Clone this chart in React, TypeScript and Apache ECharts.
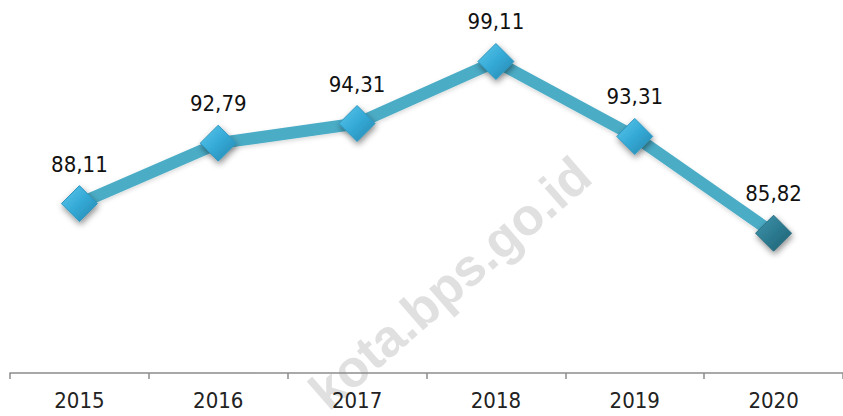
import React, { useEffect, useRef } from "react";
import * as echarts from "echarts";

const years = ["2015", "2016", "2017", "2018", "2019", "2020"];
const values = [88.11, 92.79, 94.31, 99.11, 93.31, 85.82];
const watermark = "kota.bps.go.id";

const FONT = "'Liberation Sans Narrow', 'Arial Narrow', 'DejaVu Sans Condensed', sans-serif";

export default function App() {
  const ref = useRef<HTMLDivElement>(null);
  useEffect(() => {
    document.body.style.margin = "0";
    const chart = echarts.init(ref.current!, null, { renderer: "svg" });
    const normalFill = new echarts.graphic.LinearGradient(0, 0, 1, 1, [
      { offset: 0, color: "#5cc8ec" },
      { offset: 0.5, color: "#34a9d6" },
      { offset: 1, color: "#2586ad" },
    ]);
    const darkFill = new echarts.graphic.LinearGradient(0, 0, 1, 1, [
      { offset: 0, color: "#3f97ad" },
      { offset: 0.5, color: "#2c7a90" },
      { offset: 1, color: "#1f5f72" },
    ]);
    const data = values.map((v, i) => ({
      value: v,
      itemStyle: {
        color: i === values.length - 1 ? darkFill : normalFill,
        borderColor: i === values.length - 1 ? "#2a6f82" : "#2f97c0",
        borderWidth: 1,
        shadowBlur: 6,
        shadowOffsetX: 1,
        shadowOffsetY: 3,
        shadowColor: "rgba(0,0,0,0.45)",
      },
    }));
    chart.setOption({
      animation: false,
      backgroundColor: "#ffffff",
      graphic: [
        {
          type: "text",
          z: -10,
          x: 450,
          y: 283,
          rotation: (41 * Math.PI) / 180,
          style: {
            text: watermark,
            fill: "#e0e0e0",
            fontSize: 52,
            fontWeight: "bold",
            fontFamily: "'Liberation Sans', Arial, sans-serif",
            textAlign: "center",
            textVerticalAlign: "middle",
          },
        },
      ],
      grid: { left: 10, right: -3, top: 50, bottom: 43 },
      xAxis: {
        type: "category",
        data: years,
        boundaryGap: true,
        axisLine: { lineStyle: { color: "#8c8c8c", width: 1.5 } },
        axisTick: { show: true, length: 6, lineStyle: { color: "#8c8c8c", width: 1.5 } },
        axisLabel: {
          color: "#222222",
          fontSize: 22,
          fontFamily: FONT,
          margin: 16,
        },
        z: 5,
      },
      yAxis: {
        type: "value",
        min: 75,
        max: 100,
        show: false,
        splitLine: { show: false },
      },
      series: [
        {
          type: "line",
          data,
          z: 3,
          symbol: "diamond",
          symbolSize: 36,
          lineStyle: {
            color: "#4bacc6",
            width: 12,
            shadowBlur: 4,
            shadowOffsetY: 2,
            shadowColor: "rgba(0,0,0,0.15)",
          },
          label: {
            show: true,
            position: "top",
            distance: 10,
            color: "#111111",
            fontSize: 22,
            fontFamily: FONT,
            formatter: (p: any) => Number(p.value).toFixed(2).replace(".", ","),
          },
        },
      ],
    });
    return () => chart.dispose();
  }, []);
  return (
    <div
      ref={ref}
      style={{ position: "fixed", left: 0, top: 0, width: 843, height: 416 }}
    />
  );
}
